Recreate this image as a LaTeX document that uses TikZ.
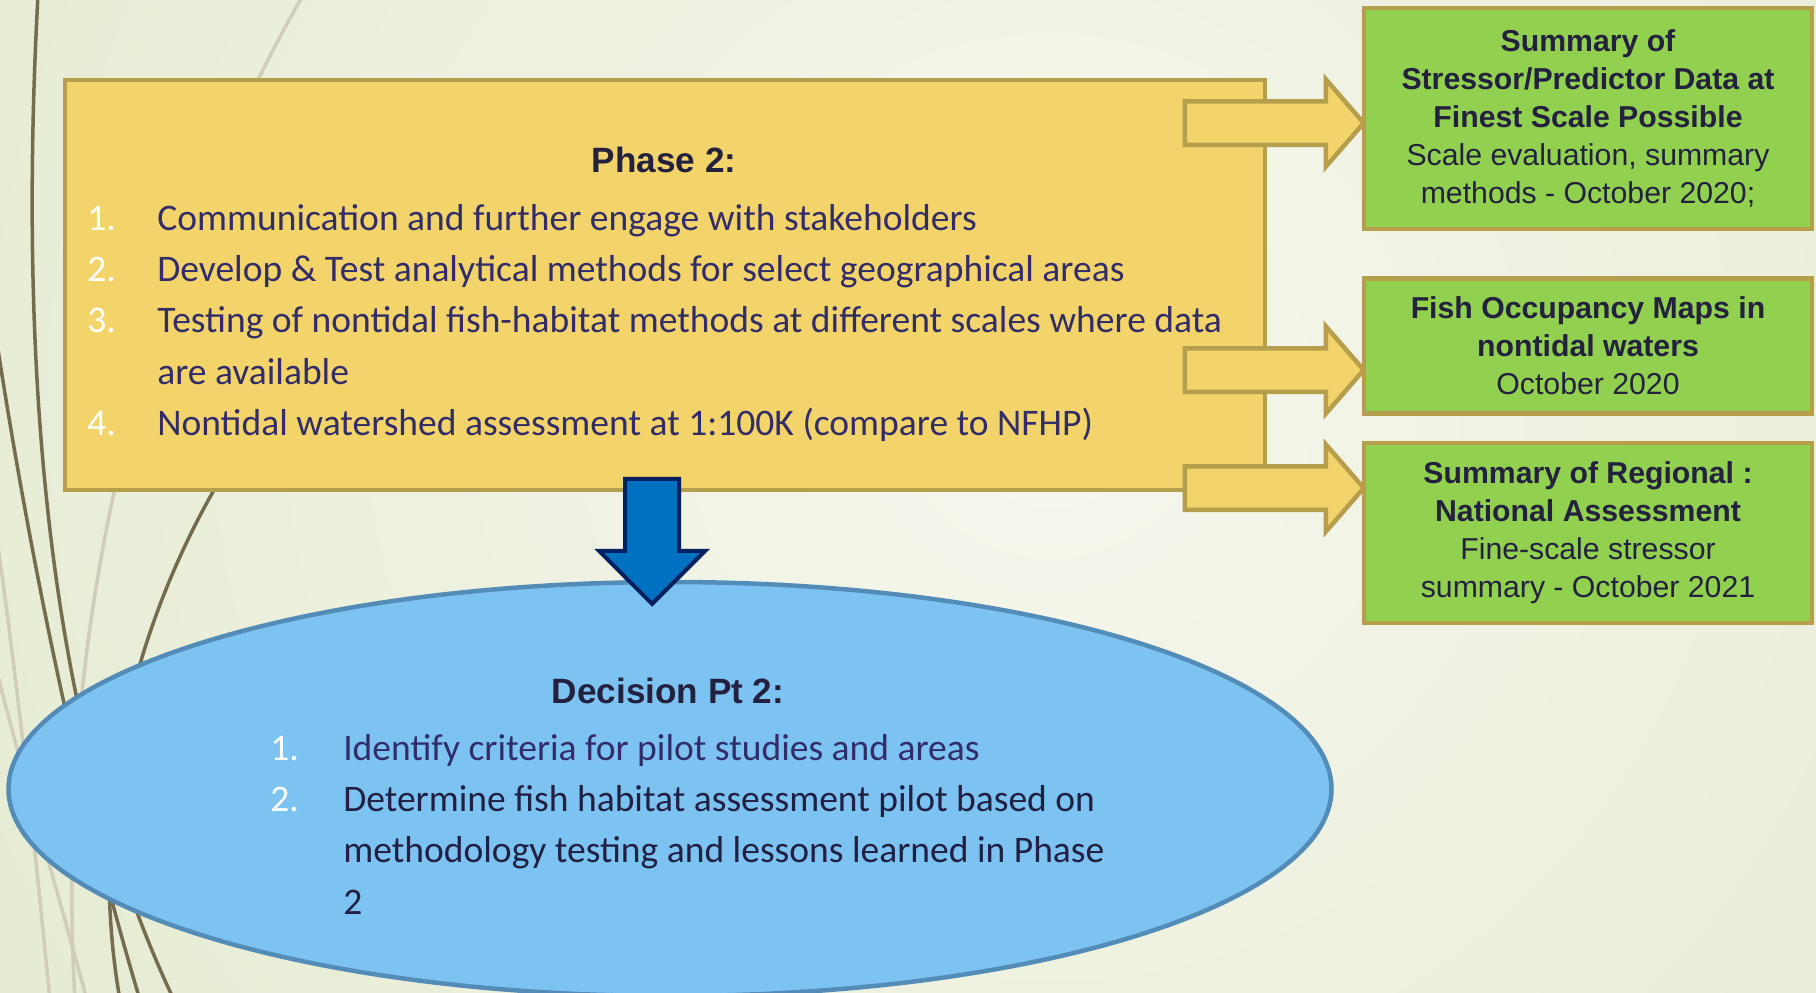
\documentclass[tikz,border=0pt]{standalone}
\usepackage{fontspec}
\setmainfont{Carlito}
\newfontfamily\arialfont{Liberation Sans}
\usetikzlibrary{positioning,shapes.geometric,shapes.arrows,calc}

\newlength{\px}
\setlength{\px}{0.025cm}

\definecolor{bgin}{RGB}{246,247,238}
\definecolor{bgout}{RGB}{220,229,194}
\definecolor{wispdark}{RGB}{117,107,79}
\definecolor{wisplight}{RGB}{208,206,184}
\definecolor{phasefill}{RGB}{242,212,106}
\definecolor{goldline}{RGB}{181,158,76}
\definecolor{outfill}{RGB}{146,208,80}
\definecolor{decfill}{RGB}{125,195,242}
\definecolor{decline}{RGB}{84,140,184}
\definecolor{downfill}{RGB}{0,112,192}
\definecolor{downline}{RGB}{0,32,96}
\definecolor{listnavy}{RGB}{50,45,105}
\definecolor{darknavy}{RGB}{33,32,66}
\definecolor{headnavy}{RGB}{35,33,62}

\tikzset{
  phasebox/.style={draw=goldline, fill=phasefill, line width=4.5\px, minimum width=1200\px, minimum height=410\px, inner sep=0},
  outbox/.style={draw=goldline, fill=outfill, line width=4.5\px, minimum width=448\px, align=center, text=headnavy, font=\arialfont\fontsize{21.5}{27}\selectfont, inner sep=0},
  goldarrow/.style={single arrow, draw=goldline, fill=phasefill, line width=4.5\px, inner sep=19.5\px, minimum height=179\px, single arrow head extend=22\px, single arrow tip angle=98},
  downarrow/.style={single arrow, draw=downline, fill=downfill, line width=4\px, inner sep=25\px, minimum height=125\px, single arrow head extend=26\px, single arrow tip angle=90, shape border rotate=270},
  decision/.style={ellipse, draw=decline, fill=decfill, line width=4.5\px, minimum width=1323\px, minimum height=414\px, inner sep=0},
  heading/.style={font=\arialfont\bfseries\fontsize{25}{30}\selectfont, text=headnavy, inner sep=0},
  itemlist/.style={font=\fontsize{26.7}{36.6}\selectfont, text=listnavy, inner sep=0},
  wisp/.style={line width=3.5\px, wispdark},
  faintwisp/.style={line width=3.5\px, wisplight}
}

\begin{document}
\begin{tikzpicture}[x=\px, y=-\px]
\useasboundingbox (0,0) rectangle (1816,993);
\clip (0,0) rectangle (1816,993);

% background
\fill[bgout] (0,0) rectangle (1816,993);
\shade[inner color=bgin, outer color=bgout] (1050,400) circle[radius=1900\px];

% wisps on the left
\draw[faintwisp] (303,-5) .. controls (130,300) and (55,650) .. (75,1000);
\draw[faintwisp] (-5,525) .. controls (20,700) and (35,850) .. (50,1000);
\draw[faintwisp] (-5,665) .. controls (30,800) and (60,900) .. (87,1000);
\draw[wisp] (38,-5) .. controls (15,420) and (60,760) .. (174,1000);
\draw[wisp] (-5,330) .. controls (30,560) and (80,800) .. (140,1000);
\draw[wisp] (214,490) .. controls (140,620) and (85,800) .. (120,1000);

% phase 2
\node[phasebox] (phase) at (665,285) {};
\node[heading, anchor=base] (phasehead) at (664,172) {Phase 2:};
\node[itemlist, anchor=base west] (phaselist) at (87,230) {%
\begin{tabular}[t]{@{}p{70\px}@{}l@{}}
\textcolor{white}{1.} & Communication and further engage with stakeholders\\
\textcolor{white}{2.} & Develop \& Test analytical methods for select geographical areas\\
\textcolor{white}{3.} & Testing of nontidal fish-habitat methods at different scales where data\\
 & are available\\
\textcolor{white}{4.} & Nontidal watershed assessment at 1:100K (compare to NFHP)\\
\end{tabular}};

% outputs
\node[outbox, minimum height=221\px] (finest) at (1588,118.5)
  {\textbf{Summary of}\\\textbf{Stressor/Predictor Data at}\\\textbf{Finest Scale Possible}\\Scale evaluation, summary\\methods - October 2020;};
\node[outbox, minimum height=135\px, below=45\px of finest] (occupancy)
  {\textbf{Fish Occupancy Maps in}\\\textbf{nontidal waters}\\October 2020};
\node[outbox, minimum height=180\px, below=25\px of occupancy] (national)
  {\textbf{Summary of Regional :}\\\textbf{National Assessment}\\Fine-scale stressor\\summary - October 2021};

\node[goldarrow, anchor=tip] (tofinest) at ($(finest.west)+(5,4.5)$) {};
\node[goldarrow, anchor=tip] (tooccupancy) at ($(occupancy.west)+(5,24)$) {};
\node[goldarrow, anchor=tip] (tonational) at ($(national.west)+(5,-45)$) {};

% decision point
\node[decision] (decision) at (670,789) {};
\node[heading, anchor=base] (dechead) at (668,703) {Decision Pt 2:};
\node[itemlist, anchor=base west] (declist) at (270,760) {%
\begin{tabular}[t]{@{}p{73\px}@{}l@{}}
\textcolor{white}{1.} & Identify criteria for pilot studies and areas\\
\textcolor{white}{2.} & \textcolor{darknavy}{Determine fish habitat assessment pilot based on}\\
 & \textcolor{darknavy}{methodology testing and lessons learned in Phase}\\
 & \textcolor{darknavy}{2}\\
\end{tabular}};

\node[downarrow, anchor=tip] (todecision) at ($(decision.north)+(-18,27)$) {};
\end{tikzpicture}
\end{document}
